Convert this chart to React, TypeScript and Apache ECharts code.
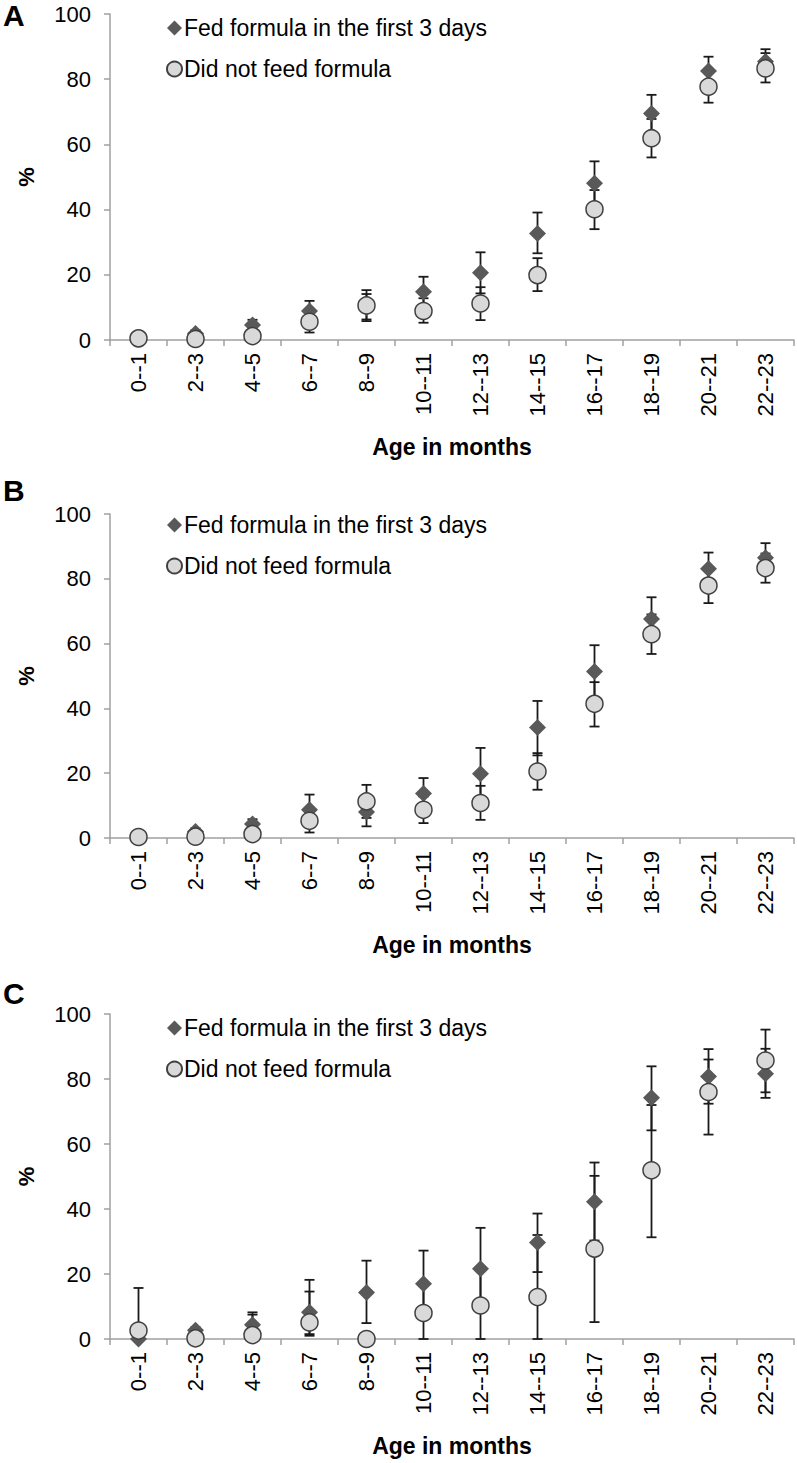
import React, { useEffect, useRef } from "react";
import * as echarts from "echarts";

const categories = ["0--1", "2--3", "4--5", "6--7", "8--9", "10--11", "12--13", "14--15", "16--17", "18--19", "20--21", "22--23"];
const panelLetters = ["A", "B", "C"];
const seriesNames = ["Fed formula in the first 3 days", "Did not feed formula"];

// Panel A
const fedA = [0.3, 2.0, 4.6, 8.9, 10.0, 14.8, 20.6, 32.7, 48.1, 69.5, 82.5, 85.4];
const fedLowA = [0.3, 1.0, 3.0, 6.0, 5.8, 10.5, 14.3, 26.6, 41.5, 63.8, 78.0, 81.5];
const fedHighA = [0.3, 3.0, 6.2, 12.0, 15.3, 19.4, 26.9, 39.1, 54.8, 75.2, 86.9, 89.2];
const notA = [0.5, 0.3, 1.2, 5.6, 10.6, 8.9, 11.2, 19.9, 40.1, 61.9, 77.7, 83.3];
const notLowA = [0.5, 0.3, 0.5, 2.3, 6.3, 5.3, 6.1, 15.0, 34.0, 56.0, 72.8, 79.0];
const notHighA = [0.5, 0.3, 2.0, 9.0, 14.1, 12.8, 16.2, 25.1, 46.0, 67.8, 82.5, 88.0];

// Panel B
const fedB = [0.2, 2.0, 4.3, 8.7, 8.0, 13.7, 19.8, 34.1, 51.4, 67.6, 83.1, 86.5];
const fedLowB = [0.2, 1.0, 3.0, 5.0, 3.6, 9.0, 12.0, 25.5, 43.0, 61.0, 78.0, 82.0];
const fedHighB = [0.2, 3.0, 5.8, 13.4, 12.0, 18.5, 27.8, 42.3, 59.5, 74.3, 88.1, 91.0];
const notB = [0.3, 0.4, 1.2, 5.3, 11.3, 8.7, 10.8, 20.5, 41.4, 62.9, 77.9, 83.3];
const notLowB = [0.3, 0.4, 0.5, 1.7, 6.2, 4.6, 5.6, 14.9, 34.4, 56.8, 72.5, 78.8];
const notHighB = [0.3, 0.4, 2.0, 9.0, 16.4, 12.8, 16.1, 26.2, 48.1, 69.0, 83.0, 87.8];

// Panel C
const fedC = [0.0, 2.7, 4.4, 8.2, 14.3, 17.0, 21.6, 29.7, 42.2, 74.2, 80.8, 81.6];
const fedLowC = [0.0, 1.8, 1.0, 1.5, 4.9, 8.0, 10.0, 20.6, 30.3, 64.2, 72.4, 74.2];
const fedHighC = [0.0, 3.6, 8.2, 18.2, 24.1, 27.2, 34.2, 38.6, 54.3, 83.9, 89.2, 89.3];
const notC = [2.6, 0.2, 1.2, 5.1, 0.0, 8.0, 10.3, 12.9, 27.8, 51.9, 76.0, 85.7];
const notLowC = [0.0, 0.2, 0.0, 1.0, 0.0, 0.0, 0.0, 0.0, 5.2, 31.3, 62.9, 75.9];
const notHighC = [15.7, 0.2, 7.5, 14.6, 0.0, 17.0, 22.0, 32.0, 50.2, 72.0, 86.0, 95.2];

const panels = [
  { fed: fedA, fedLow: fedLowA, fedHigh: fedHighA, not: notA, notLow: notLowA, notHigh: notHighA },
  { fed: fedB, fedLow: fedLowB, fedHigh: fedHighB, not: notB, notLow: notLowB, notHigh: notHighB },
  { fed: fedC, fedLow: fedLowC, fedHigh: fedHighC, not: notC, notLow: notLowC, notHigh: notHighC },
];

const FONT = "'Liberation Sans', Arial, sans-serif";
const gridTops = [14, 514, 1014];
const gridHeights = [326, 324, 325];
const legendTops = [15, 512, 1015];
const letterTops = [0, 475, 978];

function errRender(params: any, api: any) {
  const idx = api.value(0);
  const lo = api.value(1);
  const hi = api.value(2);
  if (hi - lo < 0.05) return null;
  const pLo = api.coord([idx, lo]);
  const pHi = api.coord([idx, hi]);
  const cap = 5;
  const style = { stroke: "#1a1a1a", lineWidth: 1.8 };
  return {
    type: "group",
    children: [
      { type: "line", shape: { x1: pLo[0], y1: pLo[1], x2: pHi[0], y2: pHi[1] }, style },
      { type: "line", shape: { x1: pHi[0] - cap, y1: pHi[1], x2: pHi[0] + cap, y2: pHi[1] }, style },
      { type: "line", shape: { x1: pLo[0] - cap, y1: pLo[1], x2: pLo[0] + cap, y2: pLo[1] }, style },
    ],
  };
}

export default function App() {
  const ref = useRef<HTMLDivElement>(null);
  useEffect(() => {
    if (!ref.current) return;
    const chart = echarts.init(ref.current, undefined, { renderer: "svg" });
    const grid: any[] = [];
    const xAxis: any[] = [];
    const yAxis: any[] = [];
    const series: any[] = [];
    const legend: any[] = [];
    const graphic: any[] = [];
    panels.forEach((p, i) => {
      grid.push({ left: 110, width: 684, top: gridTops[i], height: gridHeights[i] });
      xAxis.push({
        type: "category",
        gridIndex: i,
        data: categories,
        boundaryGap: true,
        name: "Age in months",
        nameLocation: "middle",
        nameGap: 95,
        nameTextStyle: { fontFamily: FONT, fontSize: 23, fontWeight: "bold", color: "#000" },
        axisLine: { lineStyle: { color: "#a0a0a0", width: 1.5 } },
        axisTick: { show: true, length: 6, lineStyle: { color: "#a0a0a0", width: 1.5 } },
        axisLabel: { rotate: 90, margin: 13, fontFamily: FONT, fontSize: 22, color: "#000", interval: 0 },
        splitLine: { show: false },
      });
      yAxis.push({
        type: "value",
        gridIndex: i,
        min: 0,
        max: 100,
        interval: 20,
        name: "%",
        nameLocation: "middle",
        nameRotate: 90,
        nameGap: 73,
        nameTextStyle: { fontFamily: FONT, fontSize: 22, fontWeight: "bold", color: "#000" },
        axisLine: { show: true, lineStyle: { color: "#a0a0a0", width: 1.5 } },
        axisTick: { show: true, length: 6, lineStyle: { color: "#a0a0a0", width: 1.5 } },
        axisLabel: { margin: 19, fontFamily: FONT, fontSize: 22, color: "#000" },
        splitLine: { show: false },
      });
      series.push({
        type: "custom",
        name: seriesNames[0] + " error",
        xAxisIndex: i,
        yAxisIndex: i,
        renderItem: errRender,
        encode: { x: 0, y: [1, 2] },
        data: categories.map((_, k) => [k, p.fedLow[k], p.fedHigh[k]]),
        z: 1,
        silent: true,
      });
      series.push({
        type: "custom",
        name: seriesNames[1] + " error",
        xAxisIndex: i,
        yAxisIndex: i,
        renderItem: errRender,
        encode: { x: 0, y: [1, 2] },
        data: categories.map((_, k) => [k, p.notLow[k], p.notHigh[k]]),
        z: 1,
        silent: true,
      });
      series.push({
        type: "scatter",
        name: seriesNames[0],
        xAxisIndex: i,
        yAxisIndex: i,
        symbol: "diamond",
        symbolSize: 17,
        itemStyle: { color: "#595959", opacity: 1 },
        data: p.fed,
        z: 3,
      });
      series.push({
        type: "scatter",
        name: seriesNames[1],
        xAxisIndex: i,
        yAxisIndex: i,
        symbol: "circle",
        symbolSize: 17,
        itemStyle: { color: "#d9d9d9", borderColor: "#404040", borderWidth: 1.5, opacity: 1 },
        data: p.not,
        z: 4,
      });
      legend.push({
        orient: "vertical",
        left: 166,
        top: legendTops[i],
        padding: 0,
        itemWidth: 15,
        itemHeight: 15,
        itemGap: 15,
        selectedMode: false,
        data: [
          { name: seriesNames[0], icon: "diamond" },
          { name: seriesNames[1], icon: "circle" },
        ],
        textStyle: { fontFamily: FONT, fontSize: 23, color: "#000", lineHeight: 26, padding: [0, 0, 0, -3] },
      });
      graphic.push({
        type: "text",
        left: 3,
        top: letterTops[i],
        style: { text: panelLetters[i], font: `bold 30px ${FONT}`, fill: "#000" },
      });
    });
    chart.setOption({
      animation: false,
      backgroundColor: "#fff",
      grid,
      xAxis,
      yAxis,
      series,
      legend,
      graphic,
    });
    return () => chart.dispose();
  }, []);
  return <div ref={ref} style={{ position: "absolute", left: 0, top: 0, width: 797, height: 1463 }} />;
}
